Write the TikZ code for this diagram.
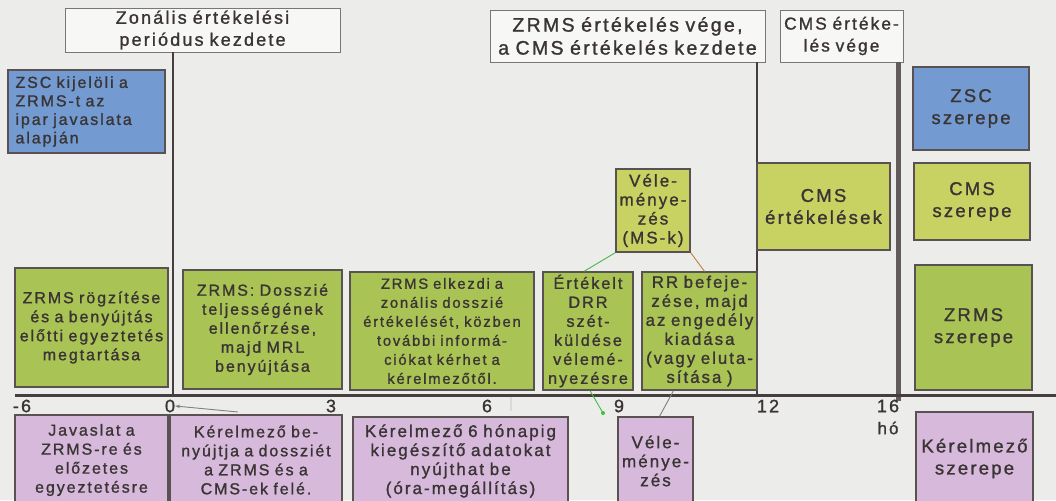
\documentclass[tikz,border=0pt]{standalone}
\usepackage{fontspec}
\setmainfont{Liberation Sans}[LetterSpace=12,FakeBold=1.2]
\usetikzlibrary{arrows.meta}
\definecolor{bg}{HTML}{ECECEA}
\definecolor{bluef}{HTML}{739BD2}
\definecolor{greenf}{HTML}{AAC355}
\definecolor{yellowf}{HTML}{C8D262}
\definecolor{purplef}{HTML}{D7B9DC}
\definecolor{labelf}{HTML}{F7F7F5}
\definecolor{edge}{HTML}{5A5252}
\definecolor{ink}{HTML}{3A3434}
\definecolor{axis}{HTML}{463E3E}
\tikzset{
  base/.style={draw=edge, line width=1.3pt, inner sep=0pt, align=center, text=ink,
    font=\fontsize{16}{19}\selectfont},
  bluebox/.style={base, fill=bluef},
  greenbox/.style={base, fill=greenf},
  yellowbox/.style={base, fill=yellowf},
  purplebox/.style={base, fill=purplef},
  rolefont/.style={font=\fontsize{18.5}{22}\selectfont},
  labelbox/.style={draw=edge!80, line width=0.9pt, fill=labelf, inner sep=0pt, align=center, text=ink,
    font=\fontsize{18}{22}\selectfont},
  sz/.style n args={2}{minimum width=#1pt, minimum height=#2pt, text width=#1pt-2pt},
  ticklbl/.style={text=ink, font=\fontsize{18}{20}\selectfont, inner sep=0pt},
  vline/.style={draw=axis, line width=2.3pt},
  thin/.style={line width=0.9pt},
}
\begin{document}
\begin{tikzpicture}[x=1pt,y=-1pt]
\useasboundingbox[fill=bg] (0,0) rectangle (1056,500);

% axis coordinates
\coordinate (axL) at (15,395);
\coordinate (axR) at (1056,395);
\coordinate (t0) at (173,395);
\coordinate (t12) at (757,395);
\coordinate (t16) at (898,401);

% top labels
\node[labelbox, sz={275}{44}] (top1) at (202.5,30) {Zonális értékelési\\periódus kezdete};
\node[labelbox, sz={275}{52}, font=\fontsize{19.5}{23}\selectfont] (top2) at (627.5,36) {ZRMS értékelés vége,\\a CMS értékelés kezdete};
\node[labelbox, sz={123}{52}, font=\fontsize{17.3}{22}\selectfont] (top3) at (841.5,36) {CMS értéke-\\lés vége};

% vertical lines
\draw[vline] (top1.south -| t0) -- (t0);
\draw[vline] (top2.south -| t12) -- (t12);
\draw[draw=axis!85, line width=5pt] (top3.south -| t16) -- (t16);
\draw[draw=axis, line width=3pt] (axL) -- (axR);

% upper boxes
\node[bluebox, sz={157}{83}, align=left, text width=142pt, font=\fontsize{16}{18.5}\selectfont] (zsc1) at (86.5,111.5) {ZSC kijelöli a\\ZRMS-t az\\ipar javaslata\\alapján};
\node[bluebox, sz={116}{83}, rolefont] (zscR) at (971,108.5) {ZSC\\szerepe};
\node[yellowbox, sz={116}{77}, rolefont] (cmsR) at (972,201.5) {CMS\\szerepe};
\node[yellowbox, sz={133}{87}, rolefont] (cmsE) at (823.5,206.5) {CMS\\értékelések};
\node[greenbox, sz={117}{125}, rolefont] (zrmsR) at (973.5,327.5) {ZRMS\\szerepe};
\node[yellowbox, sz={74}{83}, font=\fontsize{17}{19}\selectfont] (vms) at (653,210.5) {Véle-\\ménye-\\zés\\(MS-k)};

% green row
\node[greenbox, sz={153}{119}] (g1) at (91.5,327.5) {ZRMS rögzítése\\és a benyújtás\\előtti egyeztetés\\megtartása};
\node[greenbox, sz={159}{119}] (g2) at (262.5,329.5) {ZRMS: Dosszié\\teljességének\\ellenőrzése,\\majd MRL\\benyújtása};
\node[greenbox, sz={184}{118}, font=\fontsize{14.8}{19}\selectfont] (g3) at (442,331) {ZRMS elkezdi a\\zonális dosszié\\értékelését, közben\\további informá-\\ciókat kérhet a\\kérelmezőtől.};
\node[greenbox, sz={90}{118}, font=\fontsize{16.3}{19}\selectfont] (g4) at (588,331) {Értékelt\\DRR\\szét-\\küldése\\vélemé-\\nyezésre};
\node[greenbox, sz={115}{118}, font=\fontsize{16.8}{19}\selectfont] (g5) at (699.5,331) {RR befeje-\\zése, majd\\az engedély\\kiadása\\(vagy eluta-\\sítása )};

% purple row
\node[purplebox, sz={153}{90}] (p1) at (91.5,460) {Javaslat a\\ZRMS-re és\\előzetes\\egyeztetésre};
\node[purplebox, sz={172}{90}] (p2) at (256,460) {Kérelmező be-\\nyújtja a dossziét\\a ZRMS és a\\CMS-ek felé.};
\node[purplebox, sz={215}{88}, font=\fontsize{17}{19}\selectfont] (p3) at (460.5,461) {Kérelmező 6 hónapig\\kiegészítő adatokat\\nyújthat be\\(óra-megállítás)};
\node[purplebox, sz={75}{88}, font=\fontsize{17}{19}\selectfont] (p4) at (655.5,461) {Véle-\\ménye-\\zés};
\node[purplebox, sz={117}{93}, rolefont] (kerR) at (974.5,458.5) {Kérelmező\\szerepe};

% tick labels
\node[ticklbl] (l6m) at (22,406) {-6};
\node[ticklbl] (l0) at (170,406) {0};
\node[ticklbl] (l3) at (331,406) {3};
\node[ticklbl] (l6) at (487,406) {6};
\node[ticklbl] (l9) at (619,406) {9};
\node[ticklbl] (l12) at (768,406) {12};
\node[ticklbl] (l16) at (888,406) {16};
\node[ticklbl, font=\fontsize{17}{18}\selectfont] (lho) at (888,428) {hó};

% small connectors
\coordinate (c6a) at (511,397);
\coordinate (c6b) at (511,411);
\draw[draw=white!70!gray, line width=2pt] (c6a) -- (c6b);
\coordinate (c0) at (238,412);
\draw[thin, draw=gray, -{Stealth[length=5pt]}] (c0) -- (l0.east);
\draw[thin, draw=green!45!gray] (vms.south west) -- ([xshift=-4pt]g4.north);
\draw[thin, draw=orange!50!gray] (vms.south east) -- ([xshift=5pt]g5.north);
\coordinate (c9) at (603,413);
\draw[thin, draw=green!45!gray] ([xshift=2pt]g4.south) -- (c9);
\fill[green!50!gray] (c9) circle (2pt);
\draw[thin, draw=gray] ([xshift=4pt]p4.north) -- ([xshift=-26pt]g5.south);
\end{tikzpicture}
\end{document}
